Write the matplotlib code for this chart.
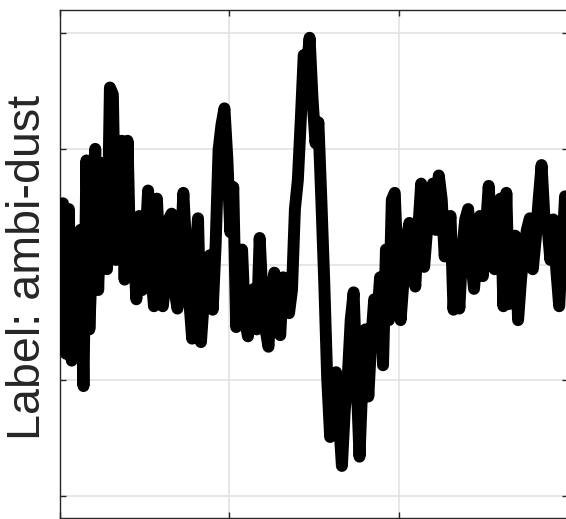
import numpy as np
import matplotlib
matplotlib.use("Agg")
import matplotlib.pyplot as plt

# signal values (sensor units), one per sample
ambi_dust = [
    0.03, 0.53, -0.77, 0.48, -0.83, 0.04, -0.65, 0.30, -1.05, 0.90,
    -0.56, 0.13, 1.00, -0.22, 0.56, 0.88, -0.04, 1.53, 1.47, 0.04,
    0.56, 1.07, -0.13, 1.07, -0.04, 0.22, -0.30, 0.42, -0.22, 0.13,
    0.64, -0.04, -0.36, 0.57, 0.04, -0.36, -0.13, 0.39, 0.44, -0.22,
    -0.38, 0.04, 0.62, 0.13, -0.30, -0.64, 0.04, 0.40, -0.67, -0.30,
    -0.04, 0.08, -0.39, 0.17, 0.99, 1.21, 1.35, 0.91, 0.28, 0.67,
    -0.54, -0.30, 0.13, -0.48, -0.62, -0.30, -0.21, -0.56, 0.23, -0.30,
    -0.56, -0.71, -0.22, -0.07, -0.48, -0.61, -0.11, -0.30, -0.42, -0.22,
    0.48, 0.73, 1.25, 1.81, 1.68, 1.96, 1.43, 1.05, 1.23, 0.56,
    -0.16, -0.99, -1.49, -1.17, -0.93, -1.34, -1.74, -1.25, -0.97, -0.48,
    -0.24, -0.99, -1.66, -0.99, -0.56, -1.14, -0.65, -0.30, -0.48, -0.11,
    -0.87, 0.13, -0.48, 0.56, 0.62, -0.04, -0.48, -0.13, 0.22, 0.36,
    0.04, -0.19, 0.30, 0.70, -0.02, 0.30, 0.48, 0.70, 0.30, 0.77,
    0.56, 0.07, 0.30, 0.42, -0.39, 0.04, -0.38, 0.13, 0.39, 0.48,
    0.04, -0.21, 0.13, 0.42, -0.10, 0.30, 0.68, 0.22, -0.04, 0.30,
    0.57, -0.36, 0.62, -0.34, 0.04, 0.25, -0.48, -0.13, 0.13, 0.30,
    0.40, -0.04, 0.22, 0.56, 0.86, 0.39, 0.33, 0.04, 0.39, -0.04,
    -0.36, 0.13, 0.59, 0.30,
]
y_ticks = [-2, -1, 0, 1, 2]
y_label = "Label: ambi-dust"

n = len(ambi_dust)
t = np.arange(n)

fig = plt.figure(figsize=(5.66, 5.19), dpi=100)
ax = fig.add_axes([60 / 566, 1 / 519, 508 / 566, 508 / 519])

ax.plot(t, ambi_dust, color="black", lw=8.6,
        solid_capstyle="round", solid_joinstyle="round", zorder=3)

ax.set_xlim(0, n - 1)
ax.set_ylim(-2.19, 2.2)
ax.set_xticks(np.linspace(0, n - 1, 4))
ax.set_yticks(y_ticks)
ax.set_xticklabels([])
ax.set_yticklabels([])

ax.grid(True, color="#e3e3e3", lw=1.2, zorder=0)
ax.set_axisbelow(True)
ax.tick_params(direction="in", length=4.5, width=1, color="#262626",
               top=True, right=True)
for s in ax.spines.values():
    s.set_color("#262626")
    s.set_linewidth(1.0)

fig.text(28.5 / 566, 1 - 267.5 / 519, y_label, rotation=90,
         ha="center", va="center", fontsize=33.6,
         family="Liberation Sans", color="#262626")

fig.savefig("out.png", dpi=100)
